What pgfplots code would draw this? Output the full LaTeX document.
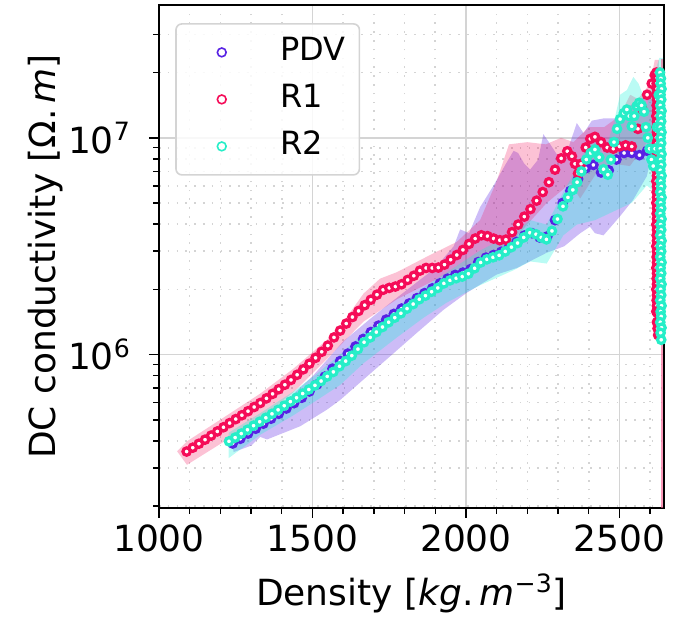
\documentclass[border=0pt]{standalone}
\usepackage{fontspec}
\setmainfont{DejaVu Sans}
\usepackage{pgfplots}
\pgfplotsset{compat=1.18}
\definecolor{pdvc}{RGB}{88,34,228}
\definecolor{r1c}{RGB}{245,12,88}
\definecolor{r2c}{RGB}{38,238,200}
\definecolor{gridc}{RGB}{212,212,212}

\pgfplotstableread{
x y
1240 3.89e5
1265 4.09e5
1290 4.32e5
1315 4.55e5
1340 4.80e5
1365 5.06e5
1390 5.33e5
1415 5.64e5
1440 5.97e5
1465 6.32e5
1490 6.76e5
1515 7.28e5
1540 7.91e5
1565 8.61e5
1590 9.33e5
1615 1.01e6
1640 1.09e6
1665 1.18e6
1690 1.27e6
1715 1.36e6
1740 1.45e6
1765 1.54e6
1790 1.63e6
1815 1.72e6
1840 1.82e6
1865 1.92e6
1890 2.02e6
1915 2.13e6
1940 2.24e6
1965 2.33e6
1990 2.39e6
2015 2.48e6
2040 2.67e6
2065 2.80e6
2090 2.88e6
2115 2.98e6
2140 3.12e6
2165 3.31e6
2190 3.54e6
2215 3.63e6
2240 3.47e6
2265 3.51e6
2290 4.17e6
2315 5.01e6
2340 5.69e6
2365 6.46e6
2390 7.24e6
2415 7.50e6
2440 6.92e6
2465 7.08e6
2490 7.94e6
2515 8.51e6
2540 8.51e6
2565 8.32e6
2590 8.71e6
}\pdvdata

\pgfplotstableread{
x y
1090 3.57e5
1110 3.72e5
1130 3.88e5
1150 4.05e5
1170 4.23e5
1190 4.42e5
1210 4.62e5
1230 4.83e5
1250 5.04e5
1270 5.25e5
1290 5.48e5
1310 5.73e5
1330 5.98e5
1350 6.28e5
1370 6.59e5
1390 6.92e5
1410 7.26e5
1430 7.64e5
1450 8.07e5
1470 8.55e5
1490 9.08e5
1510 9.66e5
1530 1.03e6
1550 1.10e6
1570 1.20e6
1590 1.29e6
1610 1.39e6
1630 1.49e6
1650 1.59e6
1670 1.69e6
1690 1.79e6
1710 1.89e6
1730 1.99e6
1750 2.03e6
1770 2.06e6
1790 2.11e6
1810 2.21e6
1830 2.31e6
1850 2.44e6
1870 2.51e6
1890 2.51e6
1910 2.52e6
1930 2.60e6
1950 2.74e6
1970 2.88e6
1990 3.04e6
2010 3.24e6
2030 3.43e6
2050 3.55e6
2070 3.52e6
2090 3.43e6
2110 3.37e6
2130 3.39e6
2150 3.67e6
2170 3.98e6
2190 4.33e6
2210 4.69e6
2230 5.13e6
2250 5.62e6
2270 6.24e6
2290 7.13e6
2310 8.04e6
2330 8.67e6
2345 8.22e6
2355 7.59e6
2365 6.84e6
2375 7.59e6
2390 9.02e6
2405 9.89e6
2420 1.01e7
2440 9.55e6
2460 9.02e6
2480 8.91e6
2500 9.12e6
2520 9.23e6
2540 9.12e6
2560 1.10e7
2575 1.35e7
2590 1.58e7
2605 1.78e7
2615 1.95e7
2620 2.00e7
2622 1.88e7
2621 1.78e7
2622 1.68e7
2620 1.58e7
2622 1.50e7
2621 1.41e7
2622 1.33e7
2620 1.26e7
2622 1.19e7
2621 1.12e7
2622 1.06e7
2620 1.00e7
2622 9.44e6
2621 8.91e6
2622 8.41e6
2620 7.94e6
2622 7.50e6
2621 7.08e6
2622 6.68e6
2620 6.31e6
2622 5.96e6
2621 5.62e6
2622 5.31e6
2620 5.01e6
2622 4.73e6
2621 4.47e6
2622 4.22e6
2620 3.98e6
2622 3.76e6
2621 3.55e6
2622 3.35e6
2620 3.16e6
2622 2.99e6
2621 2.82e6
2622 2.66e6
2620 2.51e6
2622 2.37e6
2621 2.24e6
2622 2.11e6
2620 2.00e6
2622 1.88e6
2621 1.78e6
2622 1.68e6
2620 1.58e6
2624 1.55e6
2622 1.41e6
2624 1.32e6
2626 1.23e6
}\rodata

\pgfplotstableread{
x y
1228 3.98e5
1248 4.14e5
1268 4.32e5
1288 4.50e5
1308 4.70e5
1328 4.90e5
1348 5.11e5
1368 5.33e5
1388 5.56e5
1408 5.81e5
1428 6.07e5
1448 6.32e5
1468 6.61e5
1488 6.90e5
1508 7.21e5
1528 7.55e5
1548 7.93e5
1568 8.32e5
1588 8.83e5
1608 9.33e5
1628 9.89e5
1648 1.06e6
1668 1.14e6
1688 1.20e6
1708 1.27e6
1728 1.34e6
1748 1.41e6
1768 1.48e6
1788 1.55e6
1808 1.63e6
1828 1.71e6
1848 1.80e6
1868 1.87e6
1888 1.95e6
1908 2.03e6
1928 2.13e6
1948 2.20e6
1968 2.25e6
1988 2.29e6
2008 2.36e6
2028 2.50e6
2048 2.66e6
2068 2.75e6
2088 2.81e6
2108 2.87e6
2128 2.99e6
2148 3.13e6
2168 3.27e6
2188 3.47e6
2208 3.65e6
2228 3.59e6
2245 3.47e6
2262 3.40e6
2280 3.72e6
2298 4.22e6
2316 4.83e6
2332 5.31e6
2348 5.75e6
2362 6.24e6
2376 7.00e6
2392 7.94e6
2406 8.51e6
2420 8.83e6
2434 8.13e6
2448 7.16e6
2462 6.76e6
2472 7.94e6
2482 9.55e6
2492 1.10e7
2502 1.22e7
2514 1.30e7
2524 1.35e7
2532 1.26e7
2540 1.13e7
2548 1.26e7
2556 1.40e7
2564 1.45e7
2572 1.41e7
2580 1.32e7
2586 1.12e7
2592 1.00e7
2598 8.91e6
2604 7.94e6
2610 7.41e6
2616 8.91e6
2622 1.12e7
2628 1.58e7
2632 2.00e7
2635 1.88e7
2634 1.78e7
2637 1.68e7
2634 1.58e7
2636 1.50e7
2633 1.41e7
2637 1.33e7
2634 1.26e7
2636 1.19e7
2633 1.12e7
2637 1.06e7
2634 1.00e7
2636 9.44e6
2633 8.91e6
2637 8.41e6
2634 7.94e6
2636 7.50e6
2633 7.08e6
2637 6.68e6
2634 6.31e6
2636 5.96e6
2633 5.62e6
2637 5.31e6
2634 5.01e6
2636 4.73e6
2633 4.47e6
2637 4.22e6
2634 3.98e6
2636 3.76e6
2633 3.55e6
2637 3.35e6
2634 3.16e6
2636 2.99e6
2633 2.82e6
2637 2.66e6
2634 2.51e6
2636 2.37e6
2633 2.24e6
2637 2.11e6
2634 2.00e6
2636 1.88e6
2633 1.78e6
2637 1.68e6
2634 1.58e6
2636 1.50e6
2633 1.41e6
2637 1.33e6
2634 1.26e6
2636 1.17e6
}\rtdata

\pgfplotstableread{
x y
1235 4.17e5
1300 4.68e5
1400 5.89e5
1500 7.94e5
1600 1.15e6
1700 1.51e6
1800 1.95e6
1900 2.51e6
1960 3.16e6
1981 3.78e6
2010 3.63e6
2046 4.79e6
2090 6.03e6
2130 7.59e6
2155 8.71e6
2170 8.51e6
2190 7.59e6
2209 7.14e6
2235 7.94e6
2252 1.04e7
2270 9.55e6
2307 7.94e6
2335 9.12e6
2361 1.17e7
2383 1.05e7
2410 1.20e7
2450 1.23e7
2490 1.23e7
2523 1.35e7
2556 1.50e7
2600 1.55e7
2612 1.41e7
2612 8.91e6
2605 8.32e6
2589 6.65e6
2545 5.19e6
2502 4.35e6
2448 3.55e6
2420 3.63e6
2404 3.89e6
2372 3.63e6
2320 3.16e6
2263 2.95e6
2166 2.51e6
2100 2.34e6
2003 1.93e6
1927 1.61e6
1840 1.26e6
1753 9.82e5
1666 7.67e5
1590 6.17e5
1547 5.57e5
1460 4.67e5
1352 4.06e5
1330 4.17e5
1300 3.80e5
1243 3.55e5
}\pdvband

\pgfplotstableread{
x y
1059 3.58e5
1091 3.98e5
1222 5.25e5
1330 6.61e5
1438 8.61e5
1547 1.17e6
1600 1.41e6
1666 1.91e6
1720 2.24e6
1775 2.40e6
1883 2.88e6
1970 3.31e6
2046 4.17e6
2100 6.31e6
2140 9.33e6
2200 9.55e6
2260 9.33e6
2310 1.00e7
2350 9.55e6
2400 1.12e7
2450 1.12e7
2500 1.26e7
2535 1.58e7
2560 1.51e7
2600 1.78e7
2615 2.29e7
2628 2.29e7
2630 1.26e6
2625 7.94e6
2589 9.48e6
2534 7.41e6
2480 7.59e6
2426 6.92e6
2372 5.25e6
2340 6.17e6
2263 5.01e6
2155 3.39e6
2101 2.84e6
1992 2.55e6
1883 2.15e6
1775 1.80e6
1666 1.42e6
1558 9.90e5
1438 6.70e5
1330 5.05e5
1222 4.05e5
1091 3.10e5
}\roband

\pgfplotstableread{
x y
1227 4.36e5
1330 5.37e5
1438 6.76e5
1504 7.94e5
1590 1.00e6
1666 1.26e6
1775 1.66e6
1862 2.04e6
1938 2.40e6
2046 3.02e6
2155 3.63e6
2209 4.17e6
2263 3.98e6
2317 5.62e6
2361 7.24e6
2393 9.12e6
2421 1.00e7
2448 8.32e6
2480 1.15e7
2502 1.58e7
2524 1.66e7
2545 1.91e7
2562 1.78e7
2590 1.41e7
2615 2.00e7
2630 2.34e7
2642 2.34e7
2642 1.12e6
2628 1.20e6
2615 5.62e6
2589 6.03e6
2540 5.01e6
2480 4.57e6
2420 4.17e6
2361 3.98e6
2317 3.55e6
2263 2.63e6
2209 2.69e6
2155 2.45e6
2046 2.09e6
1938 1.74e6
1862 1.48e6
1775 1.20e6
1666 9.12e5
1590 7.24e5
1504 6.03e5
1438 5.25e5
1330 4.27e5
1227 3.33e5
}\rtband

\begin{document}
\begin{tikzpicture}
\begin{axis}[
  at={(0pt,0pt)}, anchor=south west,
  scale only axis, width=252.5pt, height=251.5pt,
  xmin=1000, xmax=2645,
  ymode=log, log basis y=10, ymin=1.96e5, ymax=4.1e7,
  xtick={1000,1500,2000,2500},
  minor xtick={1100,1200,1300,1400,1600,1700,1800,1900,2100,2200,2300,2400,2600},
  ytick={1e6,1e7},
  yticklabels={10\textsuperscript{6},10\textsuperscript{7}},
  minor ytick={2e5,3e5,4e5,5e5,6e5,7e5,8e5,9e5,2e6,3e6,4e6,5e6,6e6,7e6,8e6,9e6,2e7,3e7},
  tick pos=left, tick align=outside,
  major tick length=5pt, minor tick length=2.8pt,
  every tick/.style={black, line width=0.7pt},
  axis line style={line width=0.9pt},
  grid=both,
  major grid style={gridc, line width=0.9pt},
  minor grid style={gridc, line width=0.8pt, dash pattern=on 0.8pt off 3.6pt},
  /pgf/number format/1000 sep={},
  /pgf/number format/assume math mode=true,
  ticklabel style={font=\fontsize{18}{20}\selectfont},
  yticklabel style={xshift=-5.5pt},
  xlabel={Density [\textit{kg}.\,\textit{m}\textsuperscript{−3}]},
  ylabel={DC conductivity [Ω.\,\textit{m}]},
  label style={font=\fontsize{18}{20}\selectfont},
  xlabel style={at={(axis description cs:0.5,-0.170)}, anchor=center},
  ylabel style={at={(axis description cs:-0.225,0.5)}, anchor=center, rotate=0},
  legend cell align=left,
  legend image code/.code={\path (0pt,0pt); \draw[#1] plot coordinates {(15.5pt,0pt)};},
  legend image post style={mark size=2.2pt, line width=0.8pt},
  legend style={at={(0.032,0.964)}, anchor=north west, draw=gridc, line width=0.8pt,
    rounded corners=3pt, fill=white, fill opacity=0.85, text opacity=1,
    inner xsep=7pt, inner ysep=7pt, row sep=9pt,
    font=\fontsize{16}{18}\selectfont,
    nodes={inner sep=0pt, text height=11.5pt, text depth=3pt},
    /tikz/every odd column/.append style={column sep=27pt}},
]
\addplot[draw=none, fill=pdvc, fill opacity=0.30, forget plot] table {\pdvband};
\addplot[draw=none, fill=r1c, fill opacity=0.25, forget plot] table {\roband};
\addplot[draw=none, fill=r2c!70!cyan, fill opacity=0.30, forget plot] table {\rtband};
\addplot[r1c!70, line width=0.8pt, opacity=0.6, forget plot] coordinates {(2638,2.3e7) (2638,1e5)};

\addplot[only marks, mark=*, pdvc, line width=1.6pt, mark size=1.85pt, mark options={fill=white}] table {\pdvdata};
\addlegendentry{PDV}
\addplot[only marks, mark=*, r1c, line width=1.6pt, mark size=1.85pt, mark options={fill=white}] table {\rodata};
\addlegendentry{R1}
\addplot[only marks, mark=*, r2c, line width=1.6pt, mark size=1.85pt, mark options={fill=white}] table {\rtdata};
\addlegendentry{R2}
\end{axis}
\pgfresetboundingbox
\path (-79.5pt,-55pt) rectangle (257.5pt,254pt);
\end{tikzpicture}
\end{document}
